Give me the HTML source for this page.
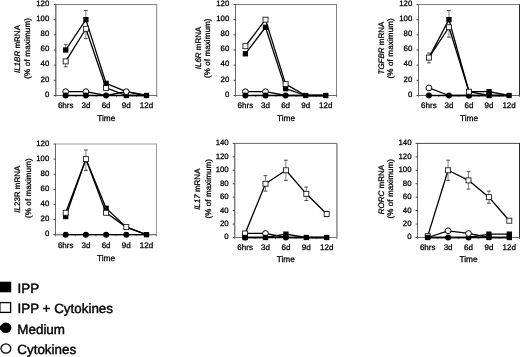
<!DOCTYPE html>
<html><head><meta charset="utf-8"><title>Figure</title>
<style>
html,body{margin:0;padding:0;background:#fff;}
body{width:520px;height:357px;overflow:hidden;font-family:'Liberation Sans', sans-serif;}
svg{display:block;}
svg text{font-family:'Liberation Sans',sans-serif;fill:#000;stroke:#000;stroke-width:0.28px;text-rendering:geometricPrecision;}
</style></head><body>
<svg width="520" height="357" viewBox="0 0 520 357">
<defs><filter id="soft" x="0" y="0" width="100%" height="100%" filterUnits="userSpaceOnUse" color-interpolation-filters="sRGB"><feGaussianBlur stdDeviation="0.35"/></filter></defs>
<g filter="url(#soft)">
<rect x="0" y="0" width="520" height="357" fill="#fff"/>
<rect x="55.80" y="4.50" width="100.90" height="91.00" fill="#fff" stroke="#808080" stroke-width="1"/>
<path d="M55.80 4.50V95.50H156.70" fill="none" stroke="#686868" stroke-width="1"/>
<path d="M53.80 95.50H55.80" stroke="#333" stroke-width="0.9"/>
<text x="49.30" y="96.70" font-size="7.8" text-anchor="end">0</text>
<path d="M53.80 80.33H55.80" stroke="#333" stroke-width="0.9"/>
<text x="49.30" y="81.53" font-size="7.8" text-anchor="end">20</text>
<path d="M53.80 65.17H55.80" stroke="#333" stroke-width="0.9"/>
<text x="49.30" y="66.37" font-size="7.8" text-anchor="end">40</text>
<path d="M53.80 50.00H55.80" stroke="#333" stroke-width="0.9"/>
<text x="49.30" y="51.20" font-size="7.8" text-anchor="end">60</text>
<path d="M53.80 34.83H55.80" stroke="#333" stroke-width="0.9"/>
<text x="49.30" y="36.03" font-size="7.8" text-anchor="end">80</text>
<path d="M53.80 19.67H55.80" stroke="#333" stroke-width="0.9"/>
<text x="49.30" y="20.87" font-size="7.8" text-anchor="end">100</text>
<path d="M53.80 4.50H55.80" stroke="#333" stroke-width="0.9"/>
<text x="49.30" y="5.70" font-size="7.8" text-anchor="end">120</text>
<path d="M55.80 95.50V97.10" stroke="#555" stroke-width="0.8"/>
<path d="M75.98 95.50V97.10" stroke="#555" stroke-width="0.8"/>
<path d="M96.16 95.50V97.10" stroke="#555" stroke-width="0.8"/>
<path d="M116.34 95.50V97.10" stroke="#555" stroke-width="0.8"/>
<path d="M136.52 95.50V97.10" stroke="#555" stroke-width="0.8"/>
<path d="M156.70 95.50V97.10" stroke="#555" stroke-width="0.8"/>
<text x="65.70" y="107.80" font-size="8.0" text-anchor="middle">6hrs</text>
<text x="85.90" y="107.80" font-size="8.0" text-anchor="middle">3d</text>
<text x="106.10" y="107.80" font-size="8.0" text-anchor="middle">6d</text>
<text x="126.30" y="107.80" font-size="8.0" text-anchor="middle">9d</text>
<text x="146.50" y="107.80" font-size="8.0" text-anchor="middle">12d</text>
<text x="106.25" y="120.90" font-size="8.3" text-anchor="middle">Time</text>
<text transform="translate(20.30 49.05) rotate(-90)" font-size="8.0" text-anchor="middle"><tspan font-style="italic">IL1BR</tspan> mRNA</text>
<text transform="translate(29.70 48.30) rotate(-90)" font-size="8.0" text-anchor="middle" letter-spacing="0.19">(% of maximum)</text>
<path d="M65.70 50.00V44.69" stroke="#777" stroke-width="0.9" fill="none"/>
<path d="M63.80 44.69H67.60" stroke="#333" stroke-width="0.9" fill="none"/>
<path d="M85.90 19.67V10.57" stroke="#777" stroke-width="0.9" fill="none"/>
<path d="M84.00 10.57H87.80" stroke="#333" stroke-width="0.9" fill="none"/>
<path d="M65.70 61.38V66.68" stroke="#777" stroke-width="0.9" fill="none"/>
<path d="M63.80 66.68H67.60" stroke="#333" stroke-width="0.9" fill="none"/>
<path d="M85.90 28.77V38.62" stroke="#777" stroke-width="0.9" fill="none"/>
<path d="M84.00 38.62H87.80" stroke="#333" stroke-width="0.9" fill="none"/>
<path d="M65.70 50.00L85.90 19.67L106.10 83.37L126.30 91.71L146.50 95.50" fill="none" stroke="#000" stroke-width="1.3" stroke-linejoin="round"/>
<path d="M65.70 61.38L85.90 28.77L106.10 87.92L126.30 95.50L146.50 95.50" fill="none" stroke="#000" stroke-width="1.3" stroke-linejoin="round"/>
<path d="M65.70 95.50L85.90 95.50L106.10 95.50L126.30 95.50L146.50 95.50" fill="none" stroke="#000" stroke-width="1.3" stroke-linejoin="round"/>
<path d="M65.70 91.71L85.90 91.71L106.10 95.50L126.30 91.71L146.50 95.50" fill="none" stroke="#000" stroke-width="1.3" stroke-linejoin="round"/>
<circle cx="65.70" cy="91.71" r="2.90" fill="#fff" stroke="#000" stroke-width="1"/>
<circle cx="85.90" cy="91.71" r="2.90" fill="#fff" stroke="#000" stroke-width="1"/>
<circle cx="65.70" cy="95.50" r="3.00" fill="#000"/>
<circle cx="85.90" cy="95.50" r="3.00" fill="#000"/>
<circle cx="106.10" cy="95.50" r="3.00" fill="#000"/>
<rect x="63.20" y="58.88" width="5.00" height="5.00" fill="#fff" stroke="#111" stroke-width="0.85"/>
<rect x="83.40" y="26.27" width="5.00" height="5.00" fill="#fff" stroke="#111" stroke-width="0.85"/>
<rect x="103.60" y="85.42" width="5.00" height="5.00" fill="#fff" stroke="#111" stroke-width="0.85"/>
<rect x="63.05" y="47.35" width="5.30" height="5.30" fill="#000"/>
<rect x="83.25" y="17.02" width="5.30" height="5.30" fill="#000"/>
<rect x="103.45" y="80.72" width="5.30" height="5.30" fill="#000"/>
<rect x="123.65" y="92.85" width="5.30" height="5.30" fill="#000"/>
<rect x="143.85" y="92.85" width="5.30" height="5.30" fill="#000"/>
<circle cx="126.30" cy="91.71" r="2.90" fill="#fff" stroke="#000" stroke-width="1"/>
<rect x="235.50" y="4.50" width="101.00" height="91.00" fill="#fff" stroke="#808080" stroke-width="1"/>
<path d="M235.50 4.50V95.50H336.50" fill="none" stroke="#686868" stroke-width="1"/>
<path d="M233.50 95.50H235.50" stroke="#333" stroke-width="0.9"/>
<text x="229.30" y="96.70" font-size="7.8" text-anchor="end">0</text>
<path d="M233.50 80.33H235.50" stroke="#333" stroke-width="0.9"/>
<text x="229.30" y="81.53" font-size="7.8" text-anchor="end">20</text>
<path d="M233.50 65.17H235.50" stroke="#333" stroke-width="0.9"/>
<text x="229.30" y="66.37" font-size="7.8" text-anchor="end">40</text>
<path d="M233.50 50.00H235.50" stroke="#333" stroke-width="0.9"/>
<text x="229.30" y="51.20" font-size="7.8" text-anchor="end">60</text>
<path d="M233.50 34.83H235.50" stroke="#333" stroke-width="0.9"/>
<text x="229.30" y="36.03" font-size="7.8" text-anchor="end">80</text>
<path d="M233.50 19.67H235.50" stroke="#333" stroke-width="0.9"/>
<text x="229.30" y="20.87" font-size="7.8" text-anchor="end">100</text>
<path d="M233.50 4.50H235.50" stroke="#333" stroke-width="0.9"/>
<text x="229.30" y="5.70" font-size="7.8" text-anchor="end">120</text>
<path d="M235.50 95.50V97.10" stroke="#555" stroke-width="0.8"/>
<path d="M255.70 95.50V97.10" stroke="#555" stroke-width="0.8"/>
<path d="M275.90 95.50V97.10" stroke="#555" stroke-width="0.8"/>
<path d="M296.10 95.50V97.10" stroke="#555" stroke-width="0.8"/>
<path d="M316.30 95.50V97.10" stroke="#555" stroke-width="0.8"/>
<path d="M336.50 95.50V97.10" stroke="#555" stroke-width="0.8"/>
<text x="245.40" y="107.80" font-size="8.0" text-anchor="middle">6hrs</text>
<text x="265.50" y="107.80" font-size="8.0" text-anchor="middle">3d</text>
<text x="285.60" y="107.80" font-size="8.0" text-anchor="middle">6d</text>
<text x="305.70" y="107.80" font-size="8.0" text-anchor="middle">9d</text>
<text x="325.80" y="107.80" font-size="8.0" text-anchor="middle">12d</text>
<text x="286.00" y="120.90" font-size="8.3" text-anchor="middle">Time</text>
<text transform="translate(201.10 47.95) rotate(-90)" font-size="8.0" text-anchor="middle"><tspan font-style="italic">IL6R</tspan> mRNA</text>
<text transform="translate(209.70 48.30) rotate(-90)" font-size="8.0" text-anchor="middle" letter-spacing="0.1">(% of maximum)</text>
<path d="M245.40 53.79L265.50 27.25L285.60 88.67L305.70 95.50L325.80 95.50" fill="none" stroke="#000" stroke-width="1.3" stroke-linejoin="round"/>
<path d="M245.40 46.21L265.50 19.67L285.60 84.12L305.70 95.50L325.80 95.50" fill="none" stroke="#000" stroke-width="1.3" stroke-linejoin="round"/>
<path d="M245.40 95.50L265.50 95.50L285.60 95.50L305.70 95.50L325.80 95.50" fill="none" stroke="#000" stroke-width="1.3" stroke-linejoin="round"/>
<path d="M245.40 91.71L265.50 91.71L285.60 95.50L305.70 95.50L325.80 95.50" fill="none" stroke="#000" stroke-width="1.3" stroke-linejoin="round"/>
<circle cx="245.40" cy="91.71" r="2.90" fill="#fff" stroke="#000" stroke-width="1"/>
<circle cx="265.50" cy="91.71" r="2.90" fill="#fff" stroke="#000" stroke-width="1"/>
<circle cx="245.40" cy="95.50" r="3.00" fill="#000"/>
<circle cx="265.50" cy="95.50" r="3.00" fill="#000"/>
<circle cx="285.60" cy="95.50" r="3.00" fill="#000"/>
<rect x="242.75" y="51.14" width="5.30" height="5.30" fill="#000"/>
<rect x="262.85" y="24.60" width="5.30" height="5.30" fill="#000"/>
<rect x="282.95" y="86.03" width="5.30" height="5.30" fill="#000"/>
<rect x="242.90" y="43.71" width="5.00" height="5.00" fill="#fff" stroke="#111" stroke-width="0.85"/>
<rect x="263.00" y="17.17" width="5.00" height="5.00" fill="#fff" stroke="#111" stroke-width="0.85"/>
<rect x="283.10" y="81.62" width="5.00" height="5.00" fill="#fff" stroke="#111" stroke-width="0.85"/>
<rect x="303.05" y="92.85" width="5.30" height="5.30" fill="#000"/>
<rect x="323.15" y="92.85" width="5.30" height="5.30" fill="#000"/>
<rect x="418.50" y="4.50" width="101.00" height="91.00" fill="#fff" stroke="#808080" stroke-width="1"/>
<path d="M418.50 4.50V95.50H519.50" fill="none" stroke="#686868" stroke-width="1"/>
<path d="M519.50 4.50V96.00" fill="none" stroke="#2a2a2a" stroke-width="1.0"/>
<path d="M416.50 95.50H418.50" stroke="#333" stroke-width="0.9"/>
<text x="412.30" y="96.70" font-size="7.8" text-anchor="end">0</text>
<path d="M416.50 80.33H418.50" stroke="#333" stroke-width="0.9"/>
<text x="412.30" y="81.53" font-size="7.8" text-anchor="end">20</text>
<path d="M416.50 65.17H418.50" stroke="#333" stroke-width="0.9"/>
<text x="412.30" y="66.37" font-size="7.8" text-anchor="end">40</text>
<path d="M416.50 50.00H418.50" stroke="#333" stroke-width="0.9"/>
<text x="412.30" y="51.20" font-size="7.8" text-anchor="end">60</text>
<path d="M416.50 34.83H418.50" stroke="#333" stroke-width="0.9"/>
<text x="412.30" y="36.03" font-size="7.8" text-anchor="end">80</text>
<path d="M416.50 19.67H418.50" stroke="#333" stroke-width="0.9"/>
<text x="412.30" y="20.87" font-size="7.8" text-anchor="end">100</text>
<path d="M416.50 4.50H418.50" stroke="#333" stroke-width="0.9"/>
<text x="412.30" y="5.70" font-size="7.8" text-anchor="end">120</text>
<path d="M418.50 95.50V97.10" stroke="#555" stroke-width="0.8"/>
<path d="M438.70 95.50V97.10" stroke="#555" stroke-width="0.8"/>
<path d="M458.90 95.50V97.10" stroke="#555" stroke-width="0.8"/>
<path d="M479.10 95.50V97.10" stroke="#555" stroke-width="0.8"/>
<path d="M499.30 95.50V97.10" stroke="#555" stroke-width="0.8"/>
<path d="M519.50 95.50V97.10" stroke="#555" stroke-width="0.8"/>
<text x="428.90" y="107.80" font-size="8.0" text-anchor="middle">6hrs</text>
<text x="448.95" y="107.80" font-size="8.0" text-anchor="middle">3d</text>
<text x="469.00" y="107.80" font-size="8.0" text-anchor="middle">6d</text>
<text x="489.05" y="107.80" font-size="8.0" text-anchor="middle">9d</text>
<text x="509.10" y="107.80" font-size="8.0" text-anchor="middle">12d</text>
<text x="469.00" y="120.90" font-size="8.3" text-anchor="middle">Time</text>
<text transform="translate(384.30 48.05) rotate(-90)" font-size="8.0" text-anchor="middle"><tspan font-style="italic">TGFBR</tspan> mRNA</text>
<text transform="translate(392.70 48.30) rotate(-90)" font-size="8.0" text-anchor="middle" letter-spacing="0.15">(% of maximum)</text>
<path d="M448.95 19.67V10.57" stroke="#777" stroke-width="0.9" fill="none"/>
<path d="M447.05 10.57H450.85" stroke="#333" stroke-width="0.9" fill="none"/>
<path d="M448.95 27.25V37.11" stroke="#777" stroke-width="0.9" fill="none"/>
<path d="M447.05 37.11H450.85" stroke="#333" stroke-width="0.9" fill="none"/>
<path d="M428.90 57.58V53.03" stroke="#777" stroke-width="0.9" fill="none"/>
<path d="M427.00 53.03H430.80" stroke="#333" stroke-width="0.9" fill="none"/>
<path d="M428.90 57.58V62.89" stroke="#777" stroke-width="0.9" fill="none"/>
<path d="M427.00 62.89H430.80" stroke="#333" stroke-width="0.9" fill="none"/>
<path d="M428.90 57.58L448.95 19.67L469.00 91.71L489.05 91.71L509.10 95.50" fill="none" stroke="#000" stroke-width="1.3" stroke-linejoin="round"/>
<path d="M428.90 57.58L448.95 27.25L469.00 91.71L489.05 95.50L509.10 95.50" fill="none" stroke="#000" stroke-width="1.3" stroke-linejoin="round"/>
<path d="M428.90 95.50L448.95 95.50L469.00 95.50L489.05 95.50L509.10 95.50" fill="none" stroke="#000" stroke-width="1.3" stroke-linejoin="round"/>
<path d="M428.90 87.92L448.95 95.50L469.00 95.50L489.05 95.50L509.10 95.50" fill="none" stroke="#000" stroke-width="1.3" stroke-linejoin="round"/>
<circle cx="428.90" cy="87.92" r="2.90" fill="#fff" stroke="#000" stroke-width="1"/>
<circle cx="428.90" cy="95.50" r="3.00" fill="#000"/>
<circle cx="448.95" cy="95.50" r="3.00" fill="#000"/>
<circle cx="469.00" cy="95.50" r="3.00" fill="#000"/>
<rect x="426.40" y="55.08" width="5.00" height="5.00" fill="#fff" stroke="#111" stroke-width="0.85"/>
<rect x="446.30" y="17.02" width="5.30" height="5.30" fill="#000"/>
<rect x="446.45" y="24.75" width="5.00" height="5.00" fill="#fff" stroke="#111" stroke-width="0.85"/>
<circle cx="469.00" cy="95.50" r="3.00" fill="#000"/>
<rect x="466.50" y="89.21" width="5.00" height="5.00" fill="#fff" stroke="#111" stroke-width="0.85"/>
<rect x="486.40" y="89.06" width="5.30" height="5.30" fill="#000"/>
<rect x="486.40" y="92.85" width="5.30" height="5.30" fill="#000"/>
<rect x="506.45" y="92.85" width="5.30" height="5.30" fill="#000"/>
<rect x="55.50" y="144.00" width="101.00" height="90.70" fill="#fff" stroke="#9a9a9a" stroke-width="1"/>
<path d="M55.50 144.00V234.70H156.50" fill="none" stroke="#686868" stroke-width="1"/>
<path d="M53.50 234.70H55.50" stroke="#333" stroke-width="0.9"/>
<text x="49.30" y="236.20" font-size="7.8" text-anchor="end">0</text>
<path d="M53.50 219.58H55.50" stroke="#333" stroke-width="0.9"/>
<text x="49.30" y="221.08" font-size="7.8" text-anchor="end">20</text>
<path d="M53.50 204.47H55.50" stroke="#333" stroke-width="0.9"/>
<text x="49.30" y="205.97" font-size="7.8" text-anchor="end">40</text>
<path d="M53.50 189.35H55.50" stroke="#333" stroke-width="0.9"/>
<text x="49.30" y="190.85" font-size="7.8" text-anchor="end">60</text>
<path d="M53.50 174.23H55.50" stroke="#333" stroke-width="0.9"/>
<text x="49.30" y="175.73" font-size="7.8" text-anchor="end">80</text>
<path d="M53.50 159.12H55.50" stroke="#333" stroke-width="0.9"/>
<text x="49.30" y="160.62" font-size="7.8" text-anchor="end">100</text>
<path d="M53.50 144.00H55.50" stroke="#333" stroke-width="0.9"/>
<text x="49.30" y="145.50" font-size="7.8" text-anchor="end">120</text>
<path d="M55.50 234.70V236.30" stroke="#555" stroke-width="0.8"/>
<path d="M75.70 234.70V236.30" stroke="#555" stroke-width="0.8"/>
<path d="M95.90 234.70V236.30" stroke="#555" stroke-width="0.8"/>
<path d="M116.10 234.70V236.30" stroke="#555" stroke-width="0.8"/>
<path d="M136.30 234.70V236.30" stroke="#555" stroke-width="0.8"/>
<path d="M156.50 234.70V236.30" stroke="#555" stroke-width="0.8"/>
<text x="65.70" y="247.80" font-size="8.0" text-anchor="middle">6hrs</text>
<text x="85.90" y="247.80" font-size="8.0" text-anchor="middle">3d</text>
<text x="106.10" y="247.80" font-size="8.0" text-anchor="middle">6d</text>
<text x="126.30" y="247.80" font-size="8.0" text-anchor="middle">9d</text>
<text x="146.50" y="247.80" font-size="8.0" text-anchor="middle">12d</text>
<text x="106.00" y="260.80" font-size="8.3" text-anchor="middle">Time</text>
<text transform="translate(20.30 189.15) rotate(-90)" font-size="8.0" text-anchor="middle"><tspan font-style="italic">IL</tspan>23R mRNA</text>
<text transform="translate(31.30 188.15) rotate(-90)" font-size="8.0" text-anchor="middle" letter-spacing="0.1">(% of maximum)</text>
<path d="M85.90 159.12V150.05" stroke="#777" stroke-width="0.9" fill="none"/>
<path d="M84.00 150.05H87.80" stroke="#333" stroke-width="0.9" fill="none"/>
<path d="M85.90 159.12V170.45" stroke="#777" stroke-width="0.9" fill="none"/>
<path d="M84.00 170.45H87.80" stroke="#333" stroke-width="0.9" fill="none"/>
<path d="M65.70 216.56L85.90 159.12L106.10 208.25L126.30 227.14L146.50 234.70" fill="none" stroke="#000" stroke-width="1.3" stroke-linejoin="round"/>
<path d="M65.70 212.78L85.90 159.12L106.10 212.78L126.30 227.14L146.50 234.70" fill="none" stroke="#000" stroke-width="1.3" stroke-linejoin="round"/>
<path d="M65.70 234.70L85.90 234.70L106.10 234.70L126.30 234.70L146.50 234.70" fill="none" stroke="#000" stroke-width="1.3" stroke-linejoin="round"/>
<circle cx="65.70" cy="234.70" r="3.00" fill="#000"/>
<circle cx="85.90" cy="234.70" r="3.00" fill="#000"/>
<circle cx="106.10" cy="234.70" r="3.00" fill="#000"/>
<circle cx="126.30" cy="234.70" r="3.00" fill="#000"/>
<rect x="63.05" y="213.91" width="5.30" height="5.30" fill="#000"/>
<rect x="63.20" y="210.28" width="5.00" height="5.00" fill="#fff" stroke="#111" stroke-width="0.85"/>
<rect x="103.45" y="205.60" width="5.30" height="5.30" fill="#000"/>
<rect x="103.60" y="210.28" width="5.00" height="5.00" fill="#fff" stroke="#111" stroke-width="0.85"/>
<rect x="83.40" y="156.62" width="5.00" height="5.00" fill="#fff" stroke="#111" stroke-width="0.85"/>
<rect x="123.80" y="224.64" width="5.00" height="5.00" fill="#fff" stroke="#111" stroke-width="0.85"/>
<rect x="143.85" y="232.05" width="5.30" height="5.30" fill="#000"/>
<rect x="234.70" y="143.40" width="102.10" height="94.10" fill="#fff" stroke="#6a6a6a" stroke-width="1"/>
<path d="M234.70 143.40V237.50H336.80" fill="none" stroke="#747474" stroke-width="1"/>
<path d="M336.80 143.40V237.50" fill="none" stroke="#9a9a9a" stroke-width="1.6"/>
<path d="M232.70 237.50H234.70" stroke="#333" stroke-width="0.9"/>
<text x="228.70" y="239.40" font-size="7.8" text-anchor="end">0</text>
<path d="M232.70 224.06H234.70" stroke="#333" stroke-width="0.9"/>
<text x="228.70" y="225.96" font-size="7.8" text-anchor="end">20</text>
<path d="M232.70 210.61H234.70" stroke="#333" stroke-width="0.9"/>
<text x="228.70" y="212.51" font-size="7.8" text-anchor="end">40</text>
<path d="M232.70 197.17H234.70" stroke="#333" stroke-width="0.9"/>
<text x="228.70" y="199.07" font-size="7.8" text-anchor="end">60</text>
<path d="M232.70 183.73H234.70" stroke="#333" stroke-width="0.9"/>
<text x="228.70" y="185.63" font-size="7.8" text-anchor="end">80</text>
<path d="M232.70 170.29H234.70" stroke="#333" stroke-width="0.9"/>
<text x="228.70" y="172.19" font-size="7.8" text-anchor="end">100</text>
<path d="M232.70 156.84H234.70" stroke="#333" stroke-width="0.9"/>
<text x="228.70" y="158.74" font-size="7.8" text-anchor="end">120</text>
<path d="M232.70 143.40H234.70" stroke="#333" stroke-width="0.9"/>
<text x="228.70" y="145.30" font-size="7.8" text-anchor="end">140</text>
<path d="M234.70 237.50V239.10" stroke="#555" stroke-width="0.8"/>
<path d="M255.12 237.50V239.10" stroke="#555" stroke-width="0.8"/>
<path d="M275.54 237.50V239.10" stroke="#555" stroke-width="0.8"/>
<path d="M295.96 237.50V239.10" stroke="#555" stroke-width="0.8"/>
<path d="M316.38 237.50V239.10" stroke="#555" stroke-width="0.8"/>
<path d="M336.80 237.50V239.10" stroke="#555" stroke-width="0.8"/>
<text x="245.10" y="250.00" font-size="8.0" text-anchor="middle">6hrs</text>
<text x="265.50" y="250.00" font-size="8.0" text-anchor="middle">3d</text>
<text x="285.90" y="250.00" font-size="8.0" text-anchor="middle">6d</text>
<text x="306.30" y="250.00" font-size="8.0" text-anchor="middle">9d</text>
<text x="326.70" y="250.00" font-size="8.0" text-anchor="middle">12d</text>
<text x="285.75" y="262.30" font-size="8.3" text-anchor="middle">Time</text>
<text transform="translate(200.20 189.20) rotate(-90)" font-size="8.0" text-anchor="middle"><tspan font-style="italic">IL17</tspan> mRNA</text>
<text transform="translate(210.60 188.75) rotate(-90)" font-size="8.0" text-anchor="middle" letter-spacing="0.1">(% of maximum)</text>
<path d="M265.50 183.73V175.66" stroke="#777" stroke-width="0.9" fill="none"/>
<path d="M263.60 175.66H267.40" stroke="#333" stroke-width="0.9" fill="none"/>
<path d="M265.50 183.73V191.12" stroke="#777" stroke-width="0.9" fill="none"/>
<path d="M263.60 191.12H267.40" stroke="#333" stroke-width="0.9" fill="none"/>
<path d="M285.90 170.29V160.20" stroke="#777" stroke-width="0.9" fill="none"/>
<path d="M284.00 160.20H287.80" stroke="#333" stroke-width="0.9" fill="none"/>
<path d="M285.90 170.29V180.37" stroke="#777" stroke-width="0.9" fill="none"/>
<path d="M284.00 180.37H287.80" stroke="#333" stroke-width="0.9" fill="none"/>
<path d="M306.30 193.81V187.09" stroke="#777" stroke-width="0.9" fill="none"/>
<path d="M304.40 187.09H308.20" stroke="#333" stroke-width="0.9" fill="none"/>
<path d="M306.30 193.81V200.53" stroke="#777" stroke-width="0.9" fill="none"/>
<path d="M304.40 200.53H308.20" stroke="#333" stroke-width="0.9" fill="none"/>
<path d="M326.70 213.97V211.29" stroke="#777" stroke-width="0.9" fill="none"/>
<path d="M324.80 211.29H328.60" stroke="#333" stroke-width="0.9" fill="none"/>
<path d="M326.70 213.97V216.66" stroke="#777" stroke-width="0.9" fill="none"/>
<path d="M324.80 216.66H328.60" stroke="#333" stroke-width="0.9" fill="none"/>
<path d="M245.10 233.47L265.50 183.73L285.90 170.29L306.30 193.81L326.70 213.97" fill="none" stroke="#000" stroke-width="1.3" stroke-linejoin="round"/>
<path d="M245.10 237.50L265.50 237.50L285.90 234.14L306.30 237.50L326.70 237.50" fill="none" stroke="#000" stroke-width="1.3" stroke-linejoin="round"/>
<path d="M245.10 237.50L265.50 237.50L285.90 237.50L306.30 237.50L326.70 237.50" fill="none" stroke="#000" stroke-width="1.3" stroke-linejoin="round"/>
<path d="M245.10 233.47L265.50 233.47L285.90 237.50L306.30 237.50L326.70 237.50" fill="none" stroke="#000" stroke-width="1.3" stroke-linejoin="round"/>
<circle cx="245.10" cy="237.50" r="3.00" fill="#000"/>
<rect x="242.60" y="230.97" width="5.00" height="5.00" fill="#fff" stroke="#111" stroke-width="0.85"/>
<rect x="242.45" y="234.85" width="5.30" height="5.30" fill="#000"/>
<circle cx="265.50" cy="233.47" r="2.90" fill="#fff" stroke="#000" stroke-width="1"/>
<rect x="262.85" y="234.85" width="5.30" height="5.30" fill="#000"/>
<circle cx="285.90" cy="237.50" r="3.00" fill="#000"/>
<rect x="283.25" y="231.49" width="5.30" height="5.30" fill="#000"/>
<rect x="303.65" y="234.85" width="5.30" height="5.30" fill="#000"/>
<rect x="324.05" y="234.85" width="5.30" height="5.30" fill="#000"/>
<rect x="263.00" y="181.23" width="5.00" height="5.00" fill="#fff" stroke="#111" stroke-width="0.85"/>
<rect x="283.40" y="167.79" width="5.00" height="5.00" fill="#fff" stroke="#111" stroke-width="0.85"/>
<rect x="303.80" y="191.31" width="5.00" height="5.00" fill="#fff" stroke="#111" stroke-width="0.85"/>
<rect x="324.20" y="211.47" width="5.00" height="5.00" fill="#fff" stroke="#111" stroke-width="0.85"/>
<rect x="417.50" y="143.40" width="102.00" height="94.10" fill="#fff" stroke="#4a4a4a" stroke-width="1"/>
<path d="M417.50 143.40V237.50H519.50" fill="none" stroke="#686868" stroke-width="1"/>
<path d="M519.50 143.40V238.00" fill="none" stroke="#2a2a2a" stroke-width="1.0"/>
<path d="M415.50 237.50H417.50" stroke="#333" stroke-width="0.9"/>
<text x="411.50" y="239.40" font-size="7.8" text-anchor="end">0</text>
<path d="M415.50 224.06H417.50" stroke="#333" stroke-width="0.9"/>
<text x="411.50" y="225.96" font-size="7.8" text-anchor="end">20</text>
<path d="M415.50 210.61H417.50" stroke="#333" stroke-width="0.9"/>
<text x="411.50" y="212.51" font-size="7.8" text-anchor="end">40</text>
<path d="M415.50 197.17H417.50" stroke="#333" stroke-width="0.9"/>
<text x="411.50" y="199.07" font-size="7.8" text-anchor="end">60</text>
<path d="M415.50 183.73H417.50" stroke="#333" stroke-width="0.9"/>
<text x="411.50" y="185.63" font-size="7.8" text-anchor="end">80</text>
<path d="M415.50 170.29H417.50" stroke="#333" stroke-width="0.9"/>
<text x="411.50" y="172.19" font-size="7.8" text-anchor="end">100</text>
<path d="M415.50 156.84H417.50" stroke="#333" stroke-width="0.9"/>
<text x="411.50" y="158.74" font-size="7.8" text-anchor="end">120</text>
<path d="M415.50 143.40H417.50" stroke="#333" stroke-width="0.9"/>
<text x="411.50" y="145.30" font-size="7.8" text-anchor="end">140</text>
<path d="M417.50 237.50V239.10" stroke="#555" stroke-width="0.8"/>
<path d="M437.90 237.50V239.10" stroke="#555" stroke-width="0.8"/>
<path d="M458.30 237.50V239.10" stroke="#555" stroke-width="0.8"/>
<path d="M478.70 237.50V239.10" stroke="#555" stroke-width="0.8"/>
<path d="M499.10 237.50V239.10" stroke="#555" stroke-width="0.8"/>
<path d="M519.50 237.50V239.10" stroke="#555" stroke-width="0.8"/>
<text x="427.70" y="250.10" font-size="8.0" text-anchor="middle">6hrs</text>
<text x="448.10" y="250.10" font-size="8.0" text-anchor="middle">3d</text>
<text x="468.50" y="250.10" font-size="8.0" text-anchor="middle">6d</text>
<text x="488.90" y="250.10" font-size="8.0" text-anchor="middle">9d</text>
<text x="509.30" y="250.10" font-size="8.0" text-anchor="middle">12d</text>
<text x="468.50" y="262.30" font-size="8.3" text-anchor="middle">Time</text>
<text transform="translate(383.80 189.50) rotate(-90)" font-size="8.0" text-anchor="middle"><tspan font-style="italic">RORC</tspan> mRNA</text>
<text transform="translate(393.20 188.75) rotate(-90)" font-size="8.0" text-anchor="middle" letter-spacing="0.1">(% of maximum)</text>
<path d="M448.10 170.29V160.20" stroke="#777" stroke-width="0.9" fill="none"/>
<path d="M446.20 160.20H450.00" stroke="#333" stroke-width="0.9" fill="none"/>
<path d="M448.10 170.29V180.37" stroke="#777" stroke-width="0.9" fill="none"/>
<path d="M446.20 180.37H450.00" stroke="#333" stroke-width="0.9" fill="none"/>
<path d="M468.50 180.37V171.63" stroke="#777" stroke-width="0.9" fill="none"/>
<path d="M466.60 171.63H470.40" stroke="#333" stroke-width="0.9" fill="none"/>
<path d="M468.50 180.37V189.11" stroke="#777" stroke-width="0.9" fill="none"/>
<path d="M466.60 189.11H470.40" stroke="#333" stroke-width="0.9" fill="none"/>
<path d="M488.90 197.17V191.12" stroke="#777" stroke-width="0.9" fill="none"/>
<path d="M487.00 191.12H490.80" stroke="#333" stroke-width="0.9" fill="none"/>
<path d="M488.90 197.17V203.22" stroke="#777" stroke-width="0.9" fill="none"/>
<path d="M487.00 203.22H490.80" stroke="#333" stroke-width="0.9" fill="none"/>
<path d="M427.70 236.16L448.10 170.29L468.50 180.37L488.90 197.17L509.30 220.70" fill="none" stroke="#000" stroke-width="1.3" stroke-linejoin="round"/>
<path d="M427.70 237.50L448.10 237.50L468.50 237.50L488.90 234.14L509.30 234.14" fill="none" stroke="#000" stroke-width="1.3" stroke-linejoin="round"/>
<path d="M427.70 237.50L448.10 237.50L468.50 237.50L488.90 237.50L509.30 237.50" fill="none" stroke="#000" stroke-width="1.3" stroke-linejoin="round"/>
<path d="M427.70 237.50L448.10 230.78L468.50 233.47L488.90 237.50L509.30 237.50" fill="none" stroke="#000" stroke-width="1.3" stroke-linejoin="round"/>
<rect x="425.20" y="233.66" width="5.00" height="5.00" fill="#fff" stroke="#111" stroke-width="0.85"/>
<rect x="425.05" y="234.85" width="5.30" height="5.30" fill="#000"/>
<circle cx="448.10" cy="237.50" r="3.00" fill="#000"/>
<circle cx="448.10" cy="230.78" r="2.90" fill="#fff" stroke="#000" stroke-width="1"/>
<circle cx="468.50" cy="237.50" r="3.00" fill="#000"/>
<circle cx="468.50" cy="233.47" r="2.90" fill="#fff" stroke="#000" stroke-width="1"/>
<rect x="486.25" y="231.49" width="5.30" height="5.30" fill="#000"/>
<rect x="486.25" y="234.85" width="5.30" height="5.30" fill="#000"/>
<rect x="506.65" y="231.49" width="5.30" height="5.30" fill="#000"/>
<rect x="506.65" y="234.85" width="5.30" height="5.30" fill="#000"/>
<rect x="445.60" y="167.79" width="5.00" height="5.00" fill="#fff" stroke="#111" stroke-width="0.85"/>
<rect x="466.00" y="177.87" width="5.00" height="5.00" fill="#fff" stroke="#111" stroke-width="0.85"/>
<rect x="486.40" y="194.67" width="5.00" height="5.00" fill="#fff" stroke="#111" stroke-width="0.85"/>
<rect x="506.80" y="218.20" width="5.00" height="5.00" fill="#fff" stroke="#111" stroke-width="0.85"/>
<rect x="-1" y="281.7" width="12.2" height="10.6" fill="#000"/>
<rect x="-0.1" y="302.6" width="10.7" height="9.8" fill="#fff" stroke="#000" stroke-width="1.3"/>
<ellipse cx="5.9" cy="327.8" rx="5.5" ry="5.2" fill="#000"/><rect x="-1" y="325.8" width="4" height="4.2" fill="#000"/>
<ellipse cx="5.9" cy="348.5" rx="4.9" ry="4.7" fill="#fff" stroke="#000" stroke-width="1.3"/>
<text x="17.5" y="292.8" font-size="13.42" style="stroke-width:0.42px">IPP</text>
<text x="17.5" y="312.9" font-size="13.42" style="stroke-width:0.42px">IPP + Cytokines</text>
<text x="17.3" y="333.5" font-size="13.42" style="stroke-width:0.42px">Medium</text>
<text x="17.3" y="353.6" font-size="13.42" style="stroke-width:0.42px">Cytokines</text>
</g>
</svg>
</body></html>
